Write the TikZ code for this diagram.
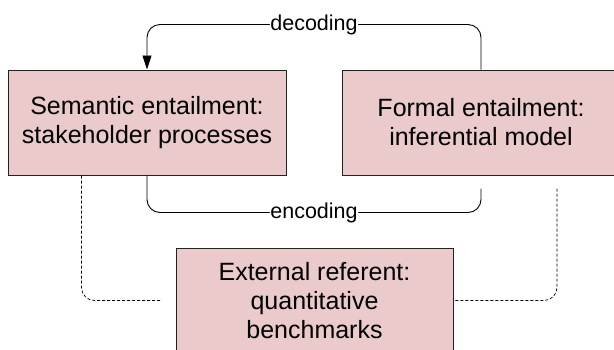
\documentclass[tikz,border=0pt]{standalone}
\usepackage{fontspec}
\setmainfont{Liberation Sans}
\usetikzlibrary{arrows.meta,calc}
\definecolor{boxfill}{HTML}{EACACA}
\definecolor{boxline}{HTML}{222222}
\tikzset{
  box/.style={draw=boxline, line width=1pt, fill=boxfill, minimum width=278pt, minimum height=105pt,
    align=center, inner sep=0pt, font=\fontsize{25}{29}\selectfont},
  conn/.style={draw=black, line width=0.9pt, rounded corners=13pt},
  dline/.style={draw=black, line width=0.7pt, dash pattern=on 3pt off 2pt, rounded corners=13pt},
  lbl/.style={fill=white, inner sep=0.5pt, font=\fontsize{21.5}{24}\selectfont}
}
\begin{document}
\begin{tikzpicture}[x=1pt,y=-1pt]
\useasboundingbox (0,0) rectangle (614,349);
\clip (0,0) rectangle (614,349);
\fill[white] (0,0) rectangle (614,349);
\node[box] (sem) at (147,122.5) {Semantic entailment:\\stakeholder processes};
\node[box] (form) at (481,122.5) {Formal entailment:\\inferential model};
\node[box, minimum width=277pt] (ext) at (314.5,300.5) {External referent:\\quantitative\\benchmarks};
\coordinate (encR) at ($(form.south)+(0,13)$);
\coordinate (dashL) at ($(sem.south west)+(74,0)$);
\coordinate (dashR) at ($(form.south)+(76,13)$);
\draw[conn, -{Triangle[length=14pt,width=9pt]}] (form.north) |- node[lbl,pos=0.75]{decoding} ($(sem.north)+(0,-45)$) -- (sem.north);
\draw[conn] (sem.south) |- node[lbl,pos=0.75]{encoding} ($(encR)+(0,24)$) -- (encR);
\draw[dline, shorten >=14pt] (dashL) |- (ext.west);
\draw[dline] (dashR) |- (ext.east);
\end{tikzpicture}
\end{document}
